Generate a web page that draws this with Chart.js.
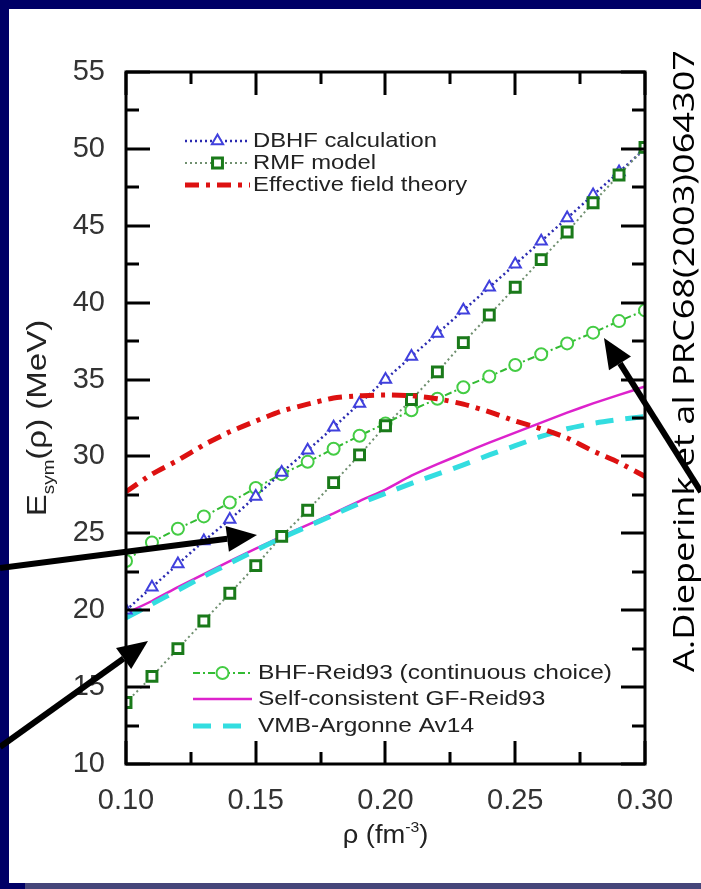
<!DOCTYPE html>
<html>
<head>
<meta charset="utf-8">
<script src="https://cdn.jsdelivr.net/npm/chart.js@4.4.0/dist/chart.umd.min.js"></script>
<style>
html, body { margin: 0; padding: 0; background: #000066; }
canvas { display: block; }
</style>
</head>
<body>
<canvas id="esymChart" width="701" height="889"></canvas>
<script>
// density grid (fm^-3)
var rho = [0.10, 0.11, 0.12, 0.13, 0.14, 0.15, 0.16, 0.17, 0.18, 0.19, 0.20,
           0.21, 0.22, 0.23, 0.24, 0.25, 0.26, 0.27, 0.28, 0.29, 0.30];

// symmetry energy (MeV) for each model
var dbhf = [20.0, 21.5, 23.0, 24.5, 25.9, 27.4, 28.95, 30.4, 31.9, 33.45, 35.0,
            36.5, 38.0, 39.5, 41.0, 42.5, 44.0, 45.5, 47.0, 48.5, 50.0];
var rmf  = [14.0, 15.7, 17.5, 19.3, 21.1, 22.9, 24.8, 26.5, 28.3, 30.1, 32.0,
            33.7, 35.5, 37.4, 39.2, 41.0, 42.8, 44.6, 46.5, 48.3, 50.1];
var eft  = [27.7, 28.85, 29.75, 30.75, 31.6, 32.3, 32.95, 33.4, 33.8, 33.95, 34.0,
            33.95, 33.75, 33.4, 32.9, 32.3, 31.8, 31.2, 30.35, 29.6, 28.7];
var bhf  = [23.2, 24.4, 25.3, 26.1, 27.0, 27.95, 28.85, 29.65, 30.5, 31.35, 32.15,
            33.0, 33.75, 34.5, 35.2, 35.95, 36.65, 37.35, 38.05, 38.8, 39.5];
var gf   = [19.8, 20.6, 21.5, 22.35, 23.2, 24.0, 24.8, 25.55, 26.3, 27.1, 27.85,
            28.75, 29.5, 30.2, 30.9, 31.55, 32.2, 32.85, 33.45, 34.0, 34.55];
var vmb  = [19.5, 20.4, 21.3, 22.2, 23.05, 23.9, 24.7, 25.45, 26.2, 26.95, 27.6,
            28.25, 28.85, 29.45, 30.1, 30.7, 31.3, 31.8, 32.15, 32.4, 32.6];

var xTicks = [0.10, 0.15, 0.20, 0.25, 0.30];
var yTicks = [10, 15, 20, 25, 30, 35, 40, 45, 50, 55];

var upperLegend = ["DBHF calculation", "RMF model", "Effective field theory"];
var lowerLegend = ["BHF-Reid93 (continuous choice)", "Self-consistent GF-Reid93", "VMB-Argonne Av14"];
var sideNote = "A.Dieperink et al PRC68(2003)064307";

function pts(ys) {
  return rho.map(function (r, i) { return { x: r, y: ys[i] }; });
}

var TXT = "'Liberation Sans', Arial, sans-serif";

// squeeze/stretch a string horizontally so it spans a given width
function fitText(ctx, text, x, y, width, align) {
  var w = ctx.measureText(text).width;
  var k = width / w;
  ctx.save();
  ctx.translate(x, y);
  ctx.scale(k, 1);
  ctx.textAlign = align || "left";
  ctx.fillText(text, 0, 0);
  ctx.restore();
}

function arrow(ctx, x0, y0, x1, y1) {
  var a = Math.atan2(y1 - y0, x1 - x0), hl = 30, hw = 13;
  var bx = x1 - hl * Math.cos(a), by = y1 - hl * Math.sin(a);
  ctx.save();
  ctx.strokeStyle = "#000";
  ctx.fillStyle = "#000";
  ctx.lineWidth = 6;
  ctx.beginPath();
  ctx.moveTo(x0, y0);
  ctx.lineTo(bx, by);
  ctx.stroke();
  ctx.beginPath();
  ctx.moveTo(x1, y1);
  ctx.lineTo(bx + hw * Math.sin(a), by - hw * Math.cos(a));
  ctx.lineTo(bx - hw * Math.sin(a), by + hw * Math.cos(a));
  ctx.closePath();
  ctx.fill();
  ctx.restore();
}

// mixed-size text run (sub/superscripts), stretched along the run by k
function drawRun(ctx, parts, x, y, align, k) {
  k = k || 1;
  var total = 0, i;
  for (i = 0; i < parts.length; i++) {
    ctx.font = parts[i][2] + "px " + TXT;
    total += ctx.measureText(parts[i][0]).width;
  }
  ctx.save();
  ctx.translate(x, y);
  ctx.scale(k, 1);
  var cx = align === "center" ? -total / 2 : 0;
  for (i = 0; i < parts.length; i++) {
    ctx.font = parts[i][2] + "px " + TXT;
    ctx.fillText(parts[i][0], cx, parts[i][1]);
    cx += ctx.measureText(parts[i][0]).width;
  }
  ctx.restore();
}

var slidePlugin = {
  id: "slide",
  beforeDraw: function (chart) {
    var ctx = chart.ctx;
    ctx.save();
    ctx.fillStyle = "#000066";
    ctx.fillRect(0, 0, 701, 889);
    ctx.fillStyle = "#ffffff";
    ctx.fillRect(9, 9, 692, 874);
    ctx.fillStyle = "#45457a";
    ctx.fillRect(25, 883, 676, 6);
    ctx.restore();
  },
  afterDatasetsDraw: function (chart) {
    var ctx = chart.ctx, ca = chart.chartArea;
    var xs = chart.scales.x, ys = chart.scales.y;
    ctx.save();

    // frame with inward ticks on all four sides
    ctx.strokeStyle = "#000";
    ctx.lineWidth = 3;
    ctx.strokeRect(ca.left, ca.top, ca.right - ca.left, ca.bottom - ca.top);
    ctx.beginPath();
    var v, p, len;
    for (v = 0.1; v <= 0.3001; v += 0.025) {
      p = Math.round(xs.getPixelForValue(v));
      len = (Math.round(v * 1000) % 50 === 0) ? 23 : 12;
      ctx.moveTo(p, ca.bottom); ctx.lineTo(p, ca.bottom - len);
      ctx.moveTo(p, ca.top); ctx.lineTo(p, ca.top + len);
    }
    for (v = 10; v <= 55; v += 2.5) {
      p = Math.round(ys.getPixelForValue(v));
      len = (v % 5 === 0) ? 24 : 13;
      ctx.moveTo(ca.left, p); ctx.lineTo(ca.left + len, p);
      ctx.moveTo(ca.right, p); ctx.lineTo(ca.right - len, p);
    }
    ctx.stroke();

    // legends, drawn from the dataset styles
    var sets = chart.data.datasets;
    function legendRow(ds, label, x0, x1, y, tx, fw) {
      ctx.save();
      ctx.strokeStyle = ds.borderColor;
      ctx.lineWidth = ds.borderWidth;
      ctx.setLineDash(ds.borderDash || []);
      ctx.beginPath();
      ctx.moveTo(x0, y); ctx.lineTo(x1, y);
      ctx.stroke();
      ctx.setLineDash([]);
      if (ds.pointRadius > 0) {
        ctx.fillStyle = ds.pointBackgroundColor;
        ctx.strokeStyle = ds.pointBorderColor;
        ctx.lineWidth = ds.pointBorderWidth;
        Chart.helpers.drawPoint(ctx, { pointStyle: ds.pointStyle, radius: ds.pointRadius, borderWidth: ds.pointBorderWidth }, (x0 + x1) / 2, y);
      }
      ctx.restore();
      ctx.fillStyle = "#222";
      ctx.font = "21px " + TXT;
      ctx.textBaseline = "middle";
      ctx.save();
      ctx.translate(tx, y);
      ctx.scale(fw, 1);
      ctx.fillText(label, 0, 0);
      ctx.restore();
    }
    ctx.font = "21px " + TXT;
    var kTop = 184 / ctx.measureText(upperLegend[0]).width;
    var kBot = 354 / ctx.measureText(lowerLegend[0]).width;
    legendRow(sets[0], upperLegend[0], 185, 250, 141, 253, kTop);
    legendRow(sets[1], upperLegend[1], 185, 250, 163, 253, kTop);
    legendRow(sets[2], upperLegend[2], 185, 250, 185, 253, kTop);
    legendRow(sets[3], lowerLegend[0], 193, 252, 673, 258, kBot);
    legendRow(sets[4], lowerLegend[1], 193, 252, 699, 258, kBot);
    legendRow(sets[5], lowerLegend[2], 193, 252, 726, 258, kBot);

    // axis titles
    ctx.fillStyle = "#222";
    ctx.textBaseline = "alphabetic";
    ctx.save();
    ctx.translate(46, 418);
    ctx.rotate(-Math.PI / 2);
    drawRun(ctx, [["E", 0, 28], ["sym", 8, 16], ["(\u03C1) (MeV)", 0, 28]], 0, 0, "center", 1.18);
    ctx.restore();

    drawRun(ctx, [["\u03C1 (fm", 0, 26], ["-3", -11, 15], [")", 0, 26]], (ca.left + ca.right) / 2, 843, "center", 1.05);

    // reference note along the right edge
    ctx.save();
    ctx.translate(694, 361);
    ctx.rotate(-Math.PI / 2);
    ctx.fillStyle = "#000";
    ctx.font = "30px 'Open Sans', sans-serif";
    fitText(ctx, sideNote, 0, 0, 622, "center");
    ctx.restore();

    // pointer arrows
    arrow(ctx, 0, 568, 257, 535);
    arrow(ctx, 0, 747, 148, 641);
    arrow(ctx, 701, 492, 604, 338);

    ctx.restore();
  }
};

var datasets = [
  {
    data: pts(dbhf), order: 2,
    borderColor: "#2a2ab0", borderWidth: 2.5, borderDash: [2, 3],
    pointStyle: "triangle", pointRadius: 6.5, pointBorderWidth: 2,
    pointBorderColor: "#4040dd", pointBackgroundColor: "#ffffff"
  },
  {
    data: pts(rmf), order: 1,
    borderColor: "#6f8f6f", borderWidth: 2, borderDash: [2, 3],
    pointStyle: "rect", pointRadius: 7, pointBorderWidth: 3,
    pointBorderColor: "#1a7a1a", pointBackgroundColor: "#ffffff"
  },
  {
    data: pts(eft), order: 0,
    borderColor: "#dd1111", borderWidth: 5, borderDash: [14, 7, 4, 7],
    pointRadius: 0
  },
  {
    data: pts(bhf), order: 3,
    borderColor: "#33bb33", borderWidth: 2, borderDash: [7, 3, 2, 3],
    pointStyle: "circle", pointRadius: 6, pointBorderWidth: 2,
    pointBorderColor: "#44cc44", pointBackgroundColor: "#ffffff"
  },
  {
    data: pts(gf), order: 5,
    borderColor: "#dd22cc", borderWidth: 2.5,
    pointRadius: 0
  },
  {
    data: pts(vmb), order: 4,
    borderColor: "#33dde0", borderWidth: 5, borderDash: [18, 12],
    pointRadius: 0
  }
];

new Chart(document.getElementById("esymChart"), {
  type: "line",
  data: { datasets: datasets },
  options: {
    responsive: false,
    animation: false,
    devicePixelRatio: 1,
    layout: { padding: { left: 0, right: 56, top: 72, bottom: 0 } },
    elements: { line: { tension: 0.2, fill: false } },
    plugins: { legend: { display: false }, tooltip: { enabled: false } },
    scales: {
      x: {
        type: "linear", min: 0.1, max: 0.3,
        afterBuildTicks: function (s) { s.ticks = xTicks.map(function (v) { return { value: v }; }); },
        ticks: {
          callback: function (v) { return v.toFixed(2); },
          font: { family: TXT, size: 29 }, color: "#333", padding: 20, maxRotation: 0, autoSkip: false
        },
        grid: { display: false, drawTicks: false },
        border: { display: false },
        afterFit: function (s) { s.height = 125; }
      },
      y: {
        min: 10, max: 55,
        afterBuildTicks: function (s) { s.ticks = yTicks.map(function (v) { return { value: v }; }); },
        ticks: {
          font: { family: TXT, size: 29 }, color: "#333", padding: 21
        },
        grid: { display: false, drawTicks: false },
        border: { display: false },
        afterFit: function (s) { s.width = 126; }
      }
    }
  },
  plugins: [slidePlugin]
});
</script>
</body>
</html>
